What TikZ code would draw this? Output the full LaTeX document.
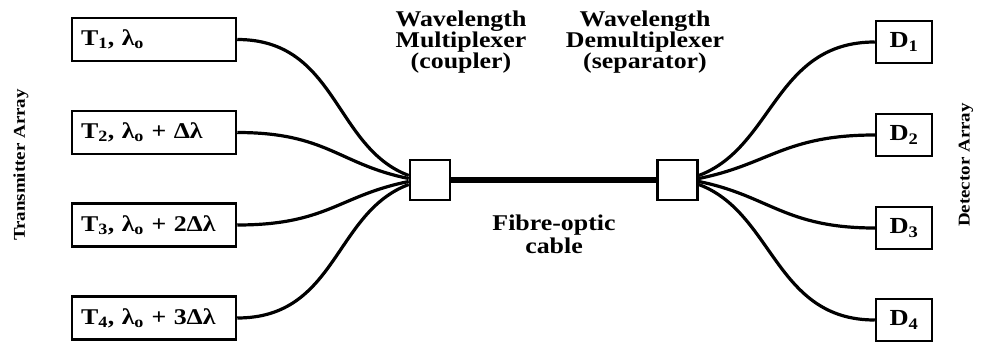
\documentclass[tikz,border=0pt]{standalone}
\usepackage{fontspec}
\setmainfont{Liberation Serif}[FakeStretch=1.15]
\newcommand\tboxfont{\fontsize{22.5pt}{26pt}\selectfont\bfseries\spaceskip=4.2pt plus 1pt\relax}
\begin{document}
\begin{tikzpicture}[x=1pt,y=-1pt,
  tbox/.style={draw,line width=2.5pt,minimum height=43pt,text width=146pt,inner xsep=9pt,align=left,
    font=\tboxfont},
  dbox/.style={draw,line width=2.5pt,minimum height=42pt,minimum width=56pt,inner sep=0pt,
    font=\fontsize{23pt}{26pt}\selectfont\bfseries},
  mbox/.style={draw,line width=2.5pt,minimum width=40pt,minimum height=40pt,inner sep=0pt},
  fibre/.style={line width=3.2pt},
  cablestyle/.style={line width=5.5pt},
  headtext/.style={align=center,inner sep=0pt,font=\fontsize{22.5pt}{21pt}\selectfont\bfseries},
  sidetext/.style={rotate=90,inner sep=0pt,font=\fontsize{16.5pt}{18pt}\selectfont\bfseries}]
\useasboundingbox (0,0) rectangle (982,345);

% transmitters
\node[tbox] (t1) at (154,39.5) {T\textsubscript{1}, λ\textsubscript{o}};
\node[tbox] (t2) at (154,132.5) {T\textsubscript{2}, λ\textsubscript{o} + Δλ};
\node[tbox] (t3) at (154,225) {T\textsubscript{3}, λ\textsubscript{o} + 2Δλ};
\node[tbox] (t4) at (154,318) {T\textsubscript{4}, λ\textsubscript{o} + 3Δλ};

% detectors
\node[dbox] (d1) at (904,42) {D\textsubscript{1}};
\node[dbox] (d2) at (904,135) {D\textsubscript{2}};
\node[dbox] (d3) at (904,228) {D\textsubscript{3}};
\node[dbox] (d4) at (904,320) {D\textsubscript{4}};

% coupler and separator
\node[mbox] (mux) at (430,180) {};
\node[mbox] (demux) at (677.5,180) {};

% cable
\draw[cablestyle] (mux) -- (demux);

% fibres to multiplexer
\draw[fibre] (t1.east) .. controls +(100,0) and +(-75,-28) .. ([yshift=4.5pt]mux.west);
\draw[fibre] (t2.east) .. controls +(90,0) and +(-70,-14) .. ([yshift=1.5pt]mux.west);
\draw[fibre] (t3.east) .. controls +(90,0) and +(-70,14) .. ([yshift=-1.5pt]mux.west);
\draw[fibre] (t4.east) .. controls +(100,0) and +(-75,28) .. ([yshift=-4.5pt]mux.west);

% fibres from demultiplexer
\draw[fibre] ([yshift=4.5pt]demux.east) .. controls +(75,-28) and +(-100,0) .. (d1.west);
\draw[fibre] ([yshift=1.5pt]demux.east) .. controls +(70,-14) and +(-90,0) .. (d2.west);
\draw[fibre] ([yshift=-1.5pt]demux.east) .. controls +(70,14) and +(-90,0) .. (d3.west);
\draw[fibre] ([yshift=-4.5pt]demux.east) .. controls +(75,28) and +(-100,0) .. (d4.west);

% labels
\node[headtext] (muxlabel) at (461,42.5) {Wavelength\\Multiplexer\\(coupler)};
\node[headtext] (demuxlabel) at (645,42.5) {Wavelength\\Demultiplexer\\(separator)};
\node[headtext,font=\fontsize{22.5pt}{23pt}\selectfont\bfseries] (cablelabel) at (554,234) {Fibre-optic\\cable};
\node[sidetext] (txlabel) at (21,165) {Transmitter Array};
\node[sidetext] (dxlabel) at (966,165) {Detector Array};
\end{tikzpicture}
\end{document}
